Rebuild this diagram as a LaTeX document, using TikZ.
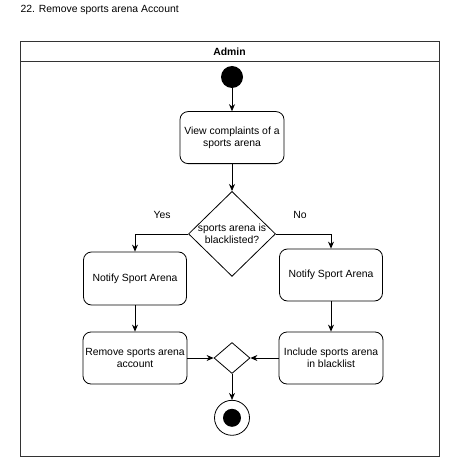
\documentclass[tikz,border=0pt]{standalone}
\usepackage{fontspec}
\setmainfont{Liberation Sans}
\usetikzlibrary{arrows.meta,positioning,shapes.geometric}

\begin{document}
\begin{tikzpicture} [
    x=1pt, y=-1pt,
    font=\fontsize{10.4}{12.5}\selectfont,
    act/.style={draw, rounded corners=8pt, line width=0.8pt,%
      minimum width=104pt, minimum height=52pt,%
      inner sep=2pt, align=center},
    choice/.style={draw, diamond, line width=0.8pt,%
      inner sep=-2pt, align=center},
    flow/.style={draw, line width=0.8pt, -{Stealth[length=7pt,width=6pt]}}
    ]
    \useasboundingbox (0,0) rectangle (459,473);
    \node[anchor=west] (title) at (17,10) {22. Remove sports arena Account};
    % swimlane
    \draw[line width=1pt, black!80] (20,42) rectangle (439,456);
    \draw[line width=1pt, black!80] (20,62) -- (439,62);
    \node[font=\fontsize{10.4}{12.5}\selectfont\bfseries] (lane) at (229.5,52) {Admin};
    % activities
    \node[circle, fill, minimum size=22pt, inner sep=0] (start) at (232,77) {};
    \node[act, below=23pt of start] (view) {View complaints of a\\sports arena};
    \node[choice, minimum width=87pt, minimum height=85pt, below=27pt of view] (dec) {sports arena is\\blacklisted?};
    \node (yes) at (162,215) {Yes};
    \node (no) at (300,215) {No};
    \node[act, minimum width=103pt, minimum height=53pt] (notL) at (135,278.5) {Notify Sport Arena};
    \node[act, minimum width=103pt] (notR) at (331,275) {Notify Sport Arena};
    \node[act] (remove) at (135,358) {Remove sports arena\\account};
    \node[act] (include) at (331,358) {Include sports arena\\in blacklist};
    \node[choice, minimum width=36pt, minimum height=31pt] (merge) at (232,358) {};
    \node[circle, draw, line width=0.8pt, minimum size=35pt, inner sep=0, below=26pt of merge] (stop) {};
    \node[circle, fill, minimum size=18pt, inner sep=0] (stopdot) at (stop) {};
    % flows
    \draw[flow] (start) -- (view);
    \draw[flow] (view) -- (dec);
    \draw[flow] (dec.west) -| (notL.north);
    \draw[flow] (dec.east) -| (notR.north);
    \draw[flow] (notL) -- (remove);
    \draw[flow] (notR) -- (include);
    \draw[flow] (remove) -- (merge);
    \draw[flow] (include) -- (merge);
    \draw[flow] (merge) -- (stop);
\end{tikzpicture}
\end{document}
